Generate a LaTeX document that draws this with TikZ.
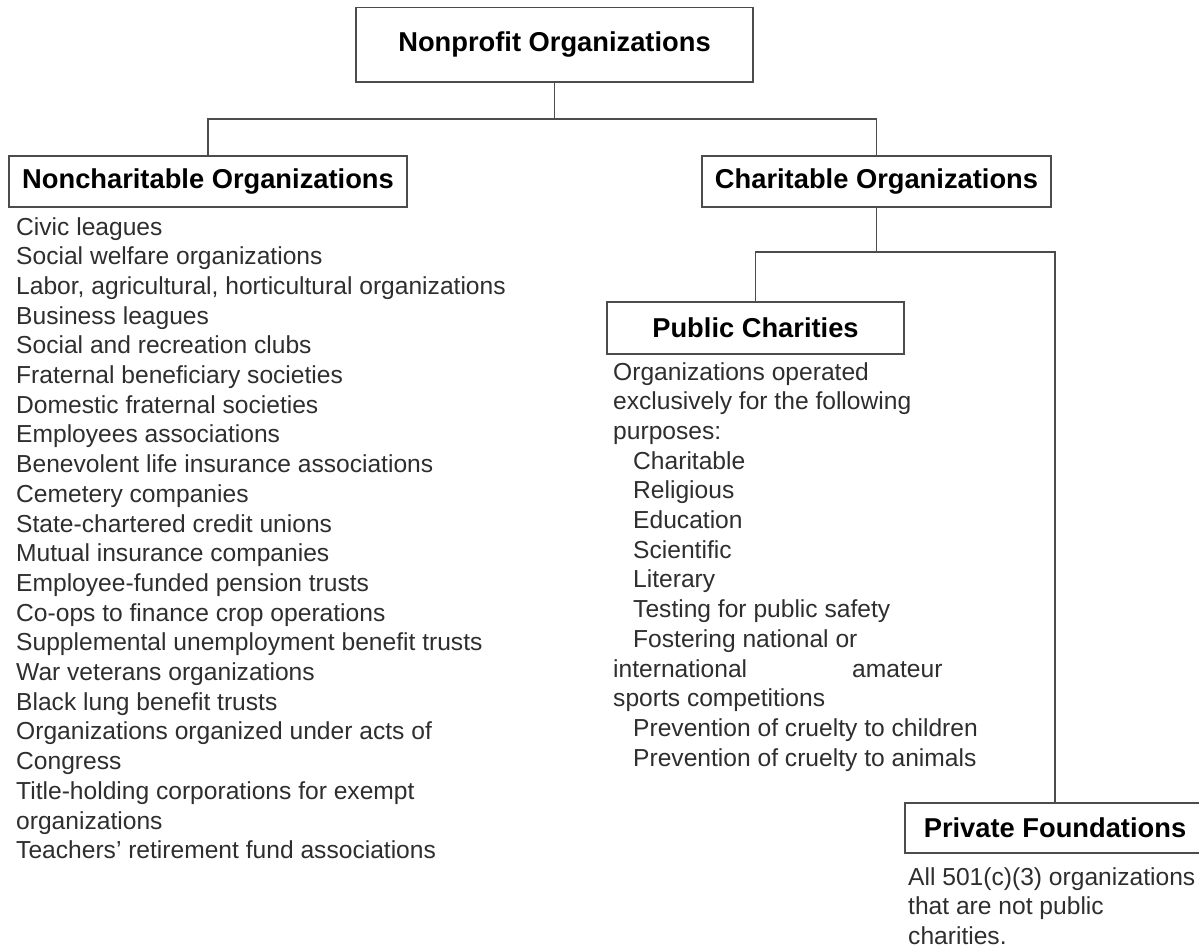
\documentclass[tikz,border=0pt]{standalone}
\usepackage{fontspec}
\setmainfont{Liberation Sans}
\begin{document}
\begin{tikzpicture}[x=1pt,y=-1pt,
  orgbox/.style={draw=black!70, line width=1.6pt, rectangle, inner sep=0pt, fill=white,
    font=\fontsize{27.3}{32}\selectfont\bfseries, text=black},
  conn/.style={draw=black!70, line width=1.6pt},
  item/.style={anchor=base west, inner sep=0pt, text=black!82,
    font=\fontsize{24.6}{29.7}\selectfont}]
\useasboundingbox (0,0) rectangle (1199,947);

% boxes
\node[orgbox, minimum width=397pt, minimum height=74.5pt] (top) at (554.5,44.75) {Nonprofit Organizations};
\node[orgbox, minimum width=398pt, minimum height=51pt] (noncharit) at (208,181.5) {Noncharitable Organizations};
\node[orgbox, minimum width=349pt, minimum height=51pt] (charit) at (876.5,181.5) {Charitable Organizations};
\node[orgbox, minimum width=297pt, minimum height=52pt] (pub) at (755.5,328) {Public Charities};
\node[orgbox, minimum width=300pt, minimum height=50pt] (priv) at (1055,828) {Private Foundations};

% connectors
\coordinate (busA) at (554.5,119);
\coordinate (busB) at (876.5,252);
\draw[conn] (top.south) -- (busA) -| (noncharit.north);
\draw[conn] (busA) -| (charit.north);
\draw[conn] (charit.south) -- (busB) -| (pub.north);
\draw[conn] (busB) -| (priv.north);

% noncharitable list
\foreach \t [count=\i] in {Civic leagues, Social welfare organizations,
  {Labor, agricultural, horticultural organizations}, Business leagues,
  Social and recreation clubs, Fraternal beneficiary societies,
  Domestic fraternal societies, Employees associations,
  Benevolent life insurance associations, Cemetery companies,
  State-chartered credit unions, Mutual insurance companies,
  Employee-funded pension trusts, Co-ops to finance crop operations,
  Supplemental unemployment benefit trusts, War veterans organizations,
  Black lung benefit trusts, Organizations organized under acts of,
  Congress, Title-holding corporations for exempt, organizations,
  Teachers’ retirement fund associations}
  \node[item] (nc\i) at (16,{235+29.7*(\i-1)}) {\t};

% public charities list
\foreach \x/\t [count=\i] in {613/Organizations operated, 613/exclusively for the following,
  613/purposes:, 633/Charitable, 633/Religious, 633/Education, 633/Scientific,
  633/Literary, 633/Testing for public safety, 633/Fostering national or,
  613/international, 613/sports competitions, 633/Prevention of cruelty to children,
  633/Prevention of cruelty to animals}
  \node[item] (pc\i) at (\x,{380+29.7*(\i-1)}) {\t};
\node[item] (pcam) at (852,{380+29.7*10}) {amateur};

% private foundations text
\foreach \t [count=\i] in {All 501(c)(3) organizations, that are not public, charities.}
  \node[item] (pf\i) at (908,{885+29.5*(\i-1)}) {\t};
\end{tikzpicture}
\end{document}
